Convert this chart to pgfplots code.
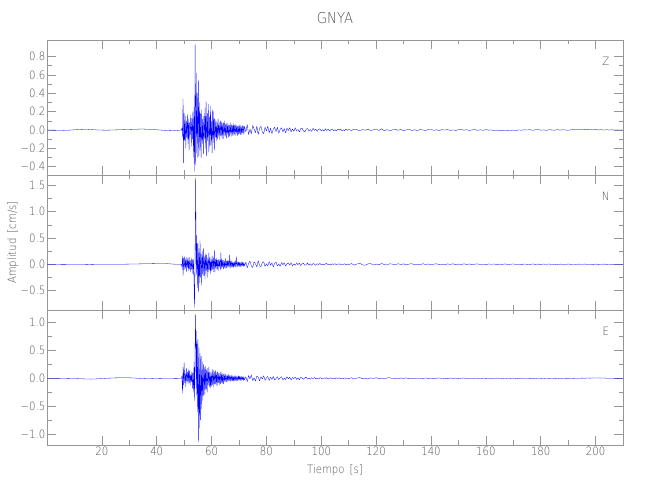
\documentclass[border=0pt]{standalone}
\usepackage{fontspec}
\setmainfont{DejaVu Sans ExtraLight}[FakeStretch=0.88]
\usepackage{pgfplots}
\pgfplotsset{compat=1.18}
\definecolor{txtgray}{RGB}{80,80,80}
\definecolor{axgray}{RGB}{150,150,150}
\definecolor{sigblue}{RGB}{0,0,255}
\pgfplotsset{seis/.style={
  scale only axis, width=576pt, height=135pt,
  xmin=0, xmax=210, xtick={20,40,...,200}, minor x tick num=1, minor y tick num=1,
  axis line style={axgray, line width=0.6pt},
  tick style={axgray, line width=0.6pt},
  major tick length=9pt, minor tick length=4.5pt,
  tick align=inside,
  tick label style={txtgray, font=\fontsize{11.5}{12}\selectfont},
  /pgf/number format/assume math mode=true,
  yticklabel style={inner sep=1.5pt},
  xticklabel style={inner sep=2pt},
  clip=true,
}}
\begin{document}
\begin{tikzpicture}
\useasboundingbox (0pt,0pt) rectangle (650pt,500pt);
% ---------------- Z ----------------
\begin{axis}[seis, at={(47pt,325pt)}, anchor=south west,
  ymin=-0.49, ymax=0.98,
  ytick={-0.4,-0.2,0,0.2,0.4,0.6,0.8},
  yticklabels={−0.4,−0.2,0.0,0.2,0.4,0.6,0.8},
  xticklabels={},
  title={GNYA}, title style={txtgray, font=\fontsize{15}{16}\selectfont, at={(axis description cs:0.5,1)}, anchor=center, yshift=16pt}]
\addplot[sigblue, line width=0.3pt, mark=none, line join=round] coordinates {
(0,0.000) (1,0.000) (2,-0.001) (3,-0.002) (4,-0.003) (5,-0.003) (6,-0.004) (7,-0.003) (8,-0.002) (9,0.000)
(10,0.002) (11,0.004) (12,0.006) (13,0.007) (14,0.008) (15,0.007) (16,0.005) (17,0.003) (18,0.001) (19,0.000)
(20,-0.001) (21,-0.002) (22,-0.002) (23,-0.001) (24,0.000) (25,0.001) (26,0.002) (27,0.003) (28,0.004) (29,0.005)
(30,0.006) (31,0.007) (32,0.008) (33,0.009) (34,0.010) (35,0.010) (36,0.009) (37,0.008) (38,0.006) (39,0.004)
(40,0.002) (41,0.000) (42,-0.002) (43,-0.004) (44,-0.006) (45,-0.007) (46,-0.008) (47,-0.006) (48,-0.003) (49,0.000)
(49.2,0.02) (49.4,-0.08) (49.6,0.34) (49.8,-0.36) (50.0,0.18) (50.2,-0.12) (50.4,0.15) (50.6,-0.20) (50.8,0.10)
(51.0,-0.08) (51.2,0.17) (51.4,-0.15) (51.6,0.12) (51.8,-0.22) (52.0,0.08) (52.2,-0.05) (52.4,0.16) (52.6,-0.18) (52.8,0.13)
(53.0,-0.10) (53.2,0.20) (53.4,-0.30) (53.6,0.25) (53.8,-0.45) (54.0,0.93) (54.2,-0.38) (54.4,0.62) (54.6,-0.25) (54.8,0.40)
(55.0,-0.30) (55.2,0.54) (55.4,-0.28) (55.6,0.30) (55.8,-0.22) (56.0,0.18) (56.2,-0.30) (56.4,0.22) (56.6,-0.15) (56.8,0.12)
(57.0,-0.26) (57.2,0.15) (57.4,-0.10) (57.6,0.24) (57.8,-0.20) (58.0,0.31) (58.2,-0.28) (58.4,0.18) (58.6,-0.12) (58.8,0.28)
(59.0,-0.24) (59.2,0.14) (59.4,-0.18) (59.6,0.26) (59.8,-0.16) (60.0,0.10) (60.2,-0.25) (60.4,0.22) (60.6,-0.14) (60.8,0.20)
(61.0,-0.22) (61.2,0.12) (61.4,-0.08) (61.6,0.10) (61.8,-0.12) (62.0,0.09) (62.2,-0.10) (62.4,0.12) (62.6,-0.07) (62.8,0.08)
(63.0,-0.11) (63.2,0.10) (63.4,-0.06) (63.6,0.09) (63.8,-0.09) (64.0,0.07) (64.2,-0.10) (64.4,0.08) (64.6,-0.06) (64.8,0.10)
(65.0,-0.07) (65.2,0.06) (65.4,-0.09) (65.6,0.08) (65.8,-0.05) (66.0,0.07) (66.2,-0.08) (66.4,0.05) (66.6,-0.07) (66.8,0.08)
(67.0,-0.05) (67.2,0.06) (67.4,-0.07) (67.6,0.05) (67.8,-0.06) (68.0,0.07) (68.2,-0.05) (68.4,0.05) (68.6,-0.06) (68.8,0.06)
(69.0,-0.04) (69.2,0.05) (69.4,-0.06) (69.6,0.04) (69.8,-0.05) (70.0,0.06) (70.2,-0.04) (70.4,0.05) (70.6,-0.05) (70.8,0.04)
(71.0,-0.05) (71.2,0.05) (71.4,-0.03) (71.6,0.04) (71.8,-0.05) (72.0,0.04)
(72.5,-0.02) (73,0.06) (73.5,-0.05) (74,0.01) (74.5,-0.04) (75,0.05) (75.5,0.01) (76,-0.03) (76.5,0.04) (77,-0.05)
(77.5,0.02) (78,0.04) (78.5,-0.02) (79,-0.04) (79.5,0.03) (80,-0.01) (80.5,0.04) (81,-0.03) (81.5,0.02) (82,-0.04)
(82.5,0.01) (83,0.03) (83.5,-0.02) (84,0.03) (84.5,-0.035) (85,0.005) (85.5,0.025) (86,-0.02) (86.5,0.015) (87,-0.03)
(87.5,0.02) (88,-0.005) (88.5,0.025) (89,-0.02) (89.5,0.01) (90,-0.015) (90.5,0.025) (91,-0.01) (91.5,0.005) (92,-0.02)
(92.5,0.015) (93,0.02) (93.5,-0.01) (94,-0.02) (94.5,0.01) (95,0.015) (95.5,-0.012) (96,0.005) (96.5,-0.015) (97,0.018)
(97.5,-0.004) (98,0.01) (98.5,-0.015) (99,0.006) (99.5,0.012) (100,-0.01) (100.5,0.003) (101,-0.012) (101.5,0.014) (102,-0.006)
(102.5,0.008) (103,-0.01) (103.5,0.002) (104,0.012) (104.5,-0.008) (105,0.004) (105.5,-0.01) (106,0.009) (106.5,-0.003) (107,0.011)
(107.5,-0.009) (108,0.002) (108.5,-0.007) (109,0.01) (109.5,-0.004) (110,0.006)
(111,-0.006) (112,0.009) (113,0.002) (114,-0.007) (115,0.004) (116,-0.002) (117,0.008) (118,-0.005) (119,0.001) (120,0.011)
(121,-0.006) (122,0.013) (123,-0.009) (124,0.004) (125,-0.011) (126,0.002) (127,0.007) (128,-0.003) (129,0.005) (130,-0.007)
(131,0.001) (132,0.006) (133,-0.005) (134,0.002) (135,-0.006) (136,0.005) (137,0.000) (138,-0.005) (139,0.004) (140,0.006)
(141,-0.003) (142,0.002) (143,-0.006) (144,0.004) (145,-0.001) (146,0.005) (147,-0.004) (148,0.001) (149,-0.005) (150,0.003)
(151,0.005) (152,-0.002) (153,0.003) (154,-0.005) (155,0.001) (156,0.004) (157,-0.004) (158,0.002) (159,-0.003) (160,0.004)
(161,-0.002) (162,0.001) (163,-0.006) (164,-0.001) (165,-0.008) (166,-0.003) (167,-0.009) (168,-0.004) (169,-0.006) (170,-0.001)
(171,-0.005) (172,0.001) (173,-0.003) (174,0.003) (175,-0.001) (176,0.004) (177,-0.003) (178,0.002) (179,0.004) (180,-0.002)
(181,0.001) (182,-0.004) (183,0.003) (184,0.001) (185,-0.003) (186,0.004) (187,-0.002) (188,0.003) (189,0.000) (190,-0.003)
(191,0.002) (192,0.005) (193,0.001) (194,0.006) (195,0.002) (196,0.007) (197,0.003) (198,0.006) (199,0.001) (200,0.005)
(201,0.000) (202,0.004) (203,-0.001) (204,0.003) (205,0.000) (206,0.002) (207,-0.001) (208,0.001) (209,0.000) (210,0.000)
};
\node[txtgray, font=\fontsize{11.5}{12}\selectfont] at (rel axis cs:0.970,0.845) {Z};
\end{axis}
% ---------------- N ----------------
\begin{axis}[seis, at={(47pt,190pt)}, anchor=south west,
  ymin=-0.87, ymax=1.70,
  ytick={-0.5,0,0.5,1.0,1.5},
  yticklabels={−0.5,0.0,0.5,1.0,1.5},
  xticklabels={},
  ylabel={Amplitud\hspace{0.45em}[cm/s]},
  ylabel style={txtgray, font=\fontsize{11.5}{12}\selectfont, at={(axis description cs:-0.059,0.5)}, anchor=center}]
\addplot[sigblue, line width=0.3pt, mark=none, line join=round] coordinates {
(0,0) (1,0.001) (2,0.002) (3,0.001) (4,0) (5,-0.001) (6,-0.002) (7,-0.001) (8,0) (9,0.001)
(10,0.002) (11,0.002) (12,0.001) (13,0) (14,-0.001) (15,-0.002) (16,-0.002) (17,-0.001) (18,0) (19,0.001)
(20,0.001) (21,0.002) (22,0.001) (23,0) (24,-0.001) (25,-0.001) (26,0) (27,0.001) (28,0.002) (29,0.003)
(30,0.004) (31,0.005) (32,0.006) (33,0.007) (34,0.008) (35,0.009) (36,0.010) (37,0.011) (38,0.012) (39,0.013)
(40,0.014) (41,0.015) (42,0.016) (43,0.015) (44,0.012) (45,0.008) (46,0.004) (47,0.001) (48,-0.001) (49,0)
(49.2,-0.05) (49.4,0.16) (49.6,-0.22) (49.8,0.12) (50.0,-0.10) (50.2,0.15) (50.4,-0.08) (50.6,0.10) (50.8,-0.14)
(51.0,0.13) (51.2,-0.06) (51.4,0.11) (51.6,-0.12) (51.8,0.14) (52.0,-0.09) (52.2,0.08) (52.4,-0.15) (52.6,0.12) (52.8,-0.10)
(53.0,0.09) (53.2,-0.18) (53.4,0.10) (53.6,-0.30) (53.8,-0.82) (54.0,0.30) (54.2,1.64) (54.4,-0.20) (54.6,0.55) (54.8,-0.45)
(55.0,0.40) (55.2,-0.52) (55.4,0.30) (55.6,-0.35) (55.8,0.45) (56.0,-0.25) (56.2,0.20) (56.4,-0.40) (56.6,0.25) (56.8,-0.18)
(57.0,0.30) (57.2,-0.22) (57.4,0.15) (57.6,-0.28) (57.8,0.20) (58.0,-0.12) (58.2,0.18) (58.4,-0.25) (58.6,0.12) (58.8,-0.15)
(59.0,0.22) (59.2,-0.10) (59.4,0.14) (59.6,-0.18) (59.8,0.10) (60.0,-0.12) (60.2,0.16) (60.4,-0.10) (60.6,0.12) (60.8,-0.14)
(61.0,0.27) (61.2,-0.15) (61.4,0.10) (61.6,-0.08) (61.8,0.12) (62.0,-0.10) (62.2,0.08) (62.4,-0.12) (62.6,0.10) (62.8,-0.06)
(63.0,0.09) (63.2,-0.10) (63.4,0.22) (63.6,-0.08) (63.8,0.10) (64.0,-0.06) (64.2,0.08) (64.4,-0.09) (64.6,0.06) (64.8,-0.07)
(65.0,0.12) (65.2,-0.08) (65.4,0.06) (65.6,-0.07) (65.8,0.08) (66.0,-0.05) (66.2,0.07) (66.4,-0.06) (66.6,0.18) (66.8,-0.07)
(67.0,0.06) (67.2,-0.05) (67.4,0.07) (67.6,-0.05) (67.8,0.04) (68.0,-0.06) (68.2,0.05) (68.4,-0.04) (68.6,0.06) (68.8,-0.05)
(69.0,0.15) (69.2,-0.05) (69.4,0.04) (69.6,-0.04) (69.8,0.05) (70.0,-0.04) (70.2,0.04) (70.4,-0.05) (70.6,0.03) (70.8,-0.04)
(71.0,0.05) (71.2,-0.03) (71.4,0.04) (71.6,-0.04) (71.8,0.03) (72.0,-0.03)
(72.5,0.04) (73,-0.07) (73.5,0.02) (74,0.06) (74.5,-0.03) (75,-0.06) (75.5,0.05) (76,0.01) (76.5,-0.05) (77,0.07)
(77.5,-0.02) (78,-0.05) (78.5,0.03) (79,0.05) (79.5,-0.04) (80,0.01) (80.5,-0.03) (81,0.05) (81.5,-0.02) (82,0.03)
(82.5,-0.05) (83,0.02) (83.5,0.04) (84,-0.03) (84.5,0.005) (85,-0.04) (85.5,0.035) (86,-0.01) (86.5,0.03) (87,-0.035)
(87.5,0.01) (88,0.025) (88.5,-0.02) (89,0.03) (89.5,-0.03) (90,0.005) (90.5,-0.02) (91,0.03) (91.5,-0.01) (92,0.02)
(92.5,-0.025) (93,0.01) (93.5,0.02) (94,-0.02) (94.5,-0.005) (95,0.025) (95.5,-0.015) (96,0.01) (96.5,-0.02) (97,0.015)
(97.5,0.005) (98,-0.02) (98.5,0.012) (99,-0.005) (99.5,0.018) (100,-0.012) (100.5,0.004) (101,-0.015) (101.5,0.01) (102,0.014)
(102.5,-0.008) (103,0.003) (103.5,-0.012) (104,0.01) (104.5,-0.004) (105,0.012) (105.5,-0.01) (106,0.002) (106.5,0.009) (107,-0.011)
(107.5,0.006) (108,-0.003) (108.5,0.01) (109,-0.008) (109.5,0.004) (110,-0.006)
(111,0.014) (112,-0.016) (113,0.006) (114,0.019) (115,-0.01) (116,-0.018) (117,0.008) (118,0.013) (119,-0.014) (120,0.004)
(121,-0.009) (122,0.015) (123,-0.004) (124,-0.013) (125,0.011) (126,0.002) (127,-0.01) (128,0.012) (129,-0.006) (130,0.009)
(131,-0.012) (132,0.005) (133,0.011) (134,-0.008) (135,0.001) (136,-0.01) (137,0.012) (138,-0.005) (139,0.007) (140,-0.011)
(141,0.003) (142,0.01) (143,-0.007) (144,0.002) (145,-0.009) (146,0.008) (147,-0.002) (148,0.01) (149,-0.008) (150,0.004)
(151,-0.006) (152,0.009) (153,-0.003) (154,0.006) (155,-0.009) (156,0.002) (157,0.008) (158,-0.006) (159,0.003) (160,-0.008)
(161,0.007) (162,-0.001) (163,0.006) (164,-0.008) (165,0.004) (166,-0.003) (167,0.008) (168,-0.006) (169,0.001) (170,0.007)
(171,-0.005) (172,0.003) (173,-0.007) (174,0.005) (175,0.000) (176,-0.006) (177,0.007) (178,-0.002) (179,0.004) (180,-0.006)
(181,0.005) (182,-0.001) (183,0.006) (184,-0.005) (185,0.002) (186,-0.006) (187,0.004) (188,0.001) (189,-0.005) (190,0.006)
(191,-0.002) (192,0.003) (193,-0.005) (194,0.004) (195,-0.001) (196,0.005) (197,-0.004) (198,0.002) (199,-0.003) (200,0.004)
(201,-0.002) (202,0.001) (203,0.004) (204,-0.003) (205,0.002) (206,-0.003) (207,0.002) (208,-0.001) (209,0.001) (210,0)
};
\node[txtgray, font=\fontsize{11.5}{12}\selectfont] at (rel axis cs:0.970,0.845) {N};
\end{axis}
% ---------------- E ----------------
\begin{axis}[seis, at={(47pt,55pt)}, anchor=south west,
  ymin=-1.20, ymax=1.23,
  ytick={-1.0,-0.5,0,0.5,1.0},
  yticklabels={−1.0,−0.5,0.0,0.5,1.0},
  xlabel={Tiempo\hspace{0.45em}[s]},
  xlabel style={txtgray, font=\fontsize{11.5}{12}\selectfont, at={(axis description cs:0.5,-0.185)}, anchor=center}]
\addplot[sigblue, line width=0.3pt, mark=none, line join=round] coordinates {
(0,0) (1,0) (2,0.001) (3,0) (4,-0.001) (5,0) (6,0.001) (7,0) (8,-0.001) (9,-0.002)
(10,-0.003) (11,-0.005) (12,-0.007) (13,-0.009) (14,-0.011) (15,-0.013) (16,-0.014) (17,-0.013) (18,-0.010) (19,-0.007)
(20,-0.004) (21,-0.001) (22,0.002) (23,0.004) (24,0.006) (25,0.008) (26,0.009) (27,0.010) (28,0.011) (29,0.010)
(30,0.009) (31,0.007) (32,0.005) (33,0.002) (34,-0.001) (35,-0.004) (36,-0.006) (37,-0.007) (38,-0.006) (39,-0.004)
(40,-0.002) (41,-0.001) (42,0) (43,0.001) (44,0.001) (45,0) (46,0) (47,-0.001) (48,0) (49,0)
(49.2,0.04) (49.4,-0.27) (49.6,0.20) (49.8,-0.12) (50.0,0.28) (50.2,-0.08) (50.4,0.10) (50.6,-0.15) (50.8,0.18)
(51.0,-0.05) (51.2,0.12) (51.4,-0.10) (51.6,0.16) (51.8,-0.08) (52.0,0.14) (52.2,-0.12) (52.4,0.08) (52.6,-0.06) (52.8,0.12)
(53.0,-0.18) (53.2,0.10) (53.4,-0.25) (53.6,0.30) (53.8,-0.40) (54.0,0.60) (54.2,1.15) (54.4,-0.30) (54.6,0.85) (54.8,-0.60)
(55.0,0.70) (55.2,-1.14) (55.4,0.55) (55.6,-0.90) (55.8,0.45) (56.0,-0.75) (56.2,0.40) (56.4,-0.55) (56.6,0.30) (56.8,-0.40)
(57.0,0.25) (57.2,-0.30) (57.4,0.20) (57.6,-0.28) (57.8,0.22) (58.0,-0.20) (58.2,0.15) (58.4,-0.25) (58.6,0.18) (58.8,-0.12)
(59.0,0.20) (59.2,-0.15) (59.4,0.12) (59.6,-0.18) (59.8,0.10) (60.0,-0.14) (60.2,0.16) (60.4,-0.12) (60.6,0.15) (60.8,-0.16)
(61.0,0.12) (61.2,-0.10) (61.4,0.14) (61.6,-0.12) (61.8,0.10) (62.0,-0.14) (62.2,0.12) (62.4,-0.08) (62.6,0.10) (62.8,-0.12)
(63.0,0.09) (63.2,-0.10) (63.4,0.12) (63.6,-0.08) (63.8,0.10) (64.0,-0.09) (64.2,0.08) (64.4,-0.10) (64.6,0.08) (64.8,-0.06)
(65.0,0.08) (65.2,-0.06) (65.4,0.05) (65.6,-0.07) (65.8,0.06) (66.0,-0.05) (66.2,0.07) (66.4,-0.04) (66.6,0.05) (66.8,-0.06)
(67.0,0.05) (67.2,-0.04) (67.4,0.06) (67.6,-0.05) (67.8,0.04) (68.0,-0.05) (68.2,0.04) (68.4,-0.04) (68.6,0.05) (68.8,-0.04)
(69.0,0.04) (69.2,-0.05) (69.4,0.03) (69.6,-0.04) (69.8,0.05) (70.0,-0.03) (70.2,0.04) (70.4,-0.04) (70.6,0.03) (70.8,-0.04)
(71.0,0.04) (71.2,-0.03) (71.4,0.03) (71.6,-0.04) (71.8,0.03) (72.0,-0.03)
(72.5,0.03) (73,-0.06) (73.5,0.05) (74,-0.01) (74.5,0.06) (75,-0.04) (75.5,0.01) (76,-0.05) (76.5,0.04) (77,0.02)
(77.5,-0.045) (78,0.03) (78.5,-0.01) (79,0.045) (79.5,-0.035) (80,0.005) (80.5,0.035) (81,-0.04) (81.5,0.02) (82,-0.02)
(82.5,0.035) (83,-0.03) (83.5,-0.005) (84,0.03) (84.5,-0.025) (85,0.01) (85.5,0.03) (86,-0.03) (86.5,0.005) (87,-0.02)
(87.5,0.03) (88,-0.01) (88.5,0.02) (89,-0.03) (89.5,0.015) (90,-0.005) (90.5,0.025) (91,-0.02) (91.5,0.01) (92,-0.025)
(92.5,0.02) (93,0.005) (93.5,-0.018) (94,0.01) (94.5,0.02) (95,-0.015) (95.5,0.004) (96,-0.018) (96.5,0.012) (97,-0.005)
(97.5,0.016) (98,-0.012) (98.5,0.003) (99,-0.014) (99.5,0.012) (100,0.002) (100.5,-0.012) (101,0.01) (101.5,-0.004) (102,0.012)
(102.5,-0.01) (103,0.001) (103.5,0.01) (104,-0.009) (104.5,0.004) (105,-0.01) (105.5,0.008) (106,-0.002) (106.5,0.009) (107,-0.008)
(107.5,0.003) (108,-0.006) (108.5,0.008) (109,-0.004) (109.5,0.006) (110,-0.005)
(111,0.01) (112,-0.012) (113,0.004) (114,0.014) (115,-0.006) (116,0.002) (117,-0.011) (118,0.008) (119,-0.002) (120,0.012)
(121,-0.008) (122,0.003) (123,-0.01) (124,0.007) (125,0.011) (126,-0.005) (127,0.001) (128,-0.009) (129,0.006) (130,-0.002)
(131,0.008) (132,-0.007) (133,0.002) (134,-0.008) (135,0.005) (136,0.001) (137,-0.006) (138,0.007) (139,-0.002) (140,0.004)
(141,-0.007) (142,0.003) (143,0.006) (144,-0.004) (145,0.001) (146,-0.006) (147,0.005) (148,-0.001) (149,0.004) (150,-0.006)
(151,0.002) (152,0.005) (153,-0.003) (154,0.001) (155,-0.005) (156,0.004) (157,0.000) (158,-0.004) (159,0.005) (160,-0.002)
(161,0.003) (162,-0.005) (163,0.002) (164,0.004) (165,-0.003) (166,0.001) (167,-0.004) (168,0.003) (169,-0.001) (170,0.004)
(171,-0.003) (172,0.001) (173,-0.004) (174,0.002) (175,0.003) (176,-0.002) (177,0.001) (178,-0.003) (179,0.003) (180,0.000)
(181,-0.003) (182,0.002) (183,-0.001) (184,0.003) (185,-0.002) (186,0.001) (187,-0.003) (188,0.002) (189,0.000) (190,-0.002)
(191,0.003) (192,-0.001) (193,0.002) (194,0.001) (195,0.004) (196,0.002) (197,0.006) (198,0.003) (199,0.008) (200,0.005)
(201,0.008) (202,0.004) (203,0.006) (204,0.002) (205,0.003) (206,0.000) (207,0.002) (208,-0.001) (209,0.001) (210,0)
};
\node[txtgray, font=\fontsize{11.5}{12}\selectfont] at (rel axis cs:0.970,0.845) {E};
\end{axis}
\end{tikzpicture}
\end{document}
